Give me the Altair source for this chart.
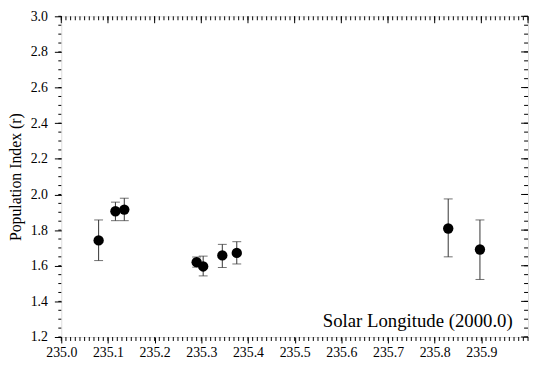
import altair as alt
import pandas as pd

# ---- data ----
longitude = [235.080, 235.116, 235.135, 235.290, 235.304, 235.345, 235.376, 235.829, 235.897]
pop_index = [1.742, 1.906, 1.915, 1.620, 1.596, 1.658, 1.672, 1.809, 1.691]
err_low   = [1.629, 1.853, 1.853, 1.592, 1.543, 1.590, 1.610, 1.650, 1.523]
err_high  = [1.857, 1.957, 1.979, 1.649, 1.654, 1.720, 1.735, 1.975, 1.857]

x_major = [235.0, 235.1, 235.2, 235.3, 235.4, 235.5, 235.6, 235.7, 235.8, 235.9]
y_major = [1.2, 1.4, 1.6, 1.8, 2.0, 2.2, 2.4, 2.6, 2.8, 3.0]
x_ticks_all = [round(235.0 + i * 0.01, 2) for i in range(101)]
y_ticks_all = [round(1.2 + i * 0.05, 2) for i in range(37)]
x_major_all = x_major + [236.0]

W, H = 473, 325
FONT = "Liberation Serif"

df = pd.DataFrame({"x": longitude, "y": pop_index, "lo": err_low, "hi": err_high})
xs = alt.Scale(domain=[235.0, 236.0], nice=False, zero=False)
ys = alt.Scale(domain=[1.2, 3.0], nice=False, zero=False)

x_axis = alt.Axis(
    values=x_major, format=".1f", grid=False, domain=False, labelOverlap=False,
    labelFlush=False,
    tickSize=6, tickColor="black", labelPadding=3,
    labelFont=FONT, labelFontSize=14, labelColor="black",
    title="Solar Longitude (2000.0)", titleFont=FONT, titleFontSize=19,
    titleFontWeight="normal", titleColor="black",
    titleX=457, titleY=-11, titleAlign="right", titleBaseline="alphabetic")
y_axis = alt.Axis(
    values=y_major, format=".1f", grid=False, domain=False, labelOverlap=False,
    labelFlush=False,
    tickSize=7, tickColor="black", labelPadding=7,
    labelFont=FONT, labelFontSize=14, labelColor="black",
    title="Population Index (r)", titleFont=FONT, titleFontSize=16,
    titleFontWeight="normal", titleColor="black",
    titleX=-41, titleY=H / 2, titleAlign="center", titleBaseline="alphabetic")


def X(field):
    return alt.X(field, scale=xs, axis=x_axis)


def Y(field):
    return alt.Y(field, scale=ys, axis=y_axis)


base = alt.Chart(df)

bars = base.mark_rule(color="#333333", strokeWidth=1).encode(
    x=X("x:Q"), y=Y("lo:Q"), y2="hi:Q")
cap_lo = base.mark_tick(color="#333333", orient="horizontal", size=9, thickness=1).encode(
    x=X("x:Q"), y=Y("lo:Q"))
cap_hi = base.mark_tick(color="#333333", orient="horizontal", size=9, thickness=1).encode(
    x=X("x:Q"), y=Y("hi:Q"))
points = base.mark_circle(size=110, color="black", opacity=1).encode(
    x=X("x:Q"), y=Y("y:Q"))

xt = pd.DataFrame({"x": x_ticks_all})
yt = pd.DataFrame({"y": y_ticks_all})
xM = pd.DataFrame({"x": x_major_all})
yM = pd.DataFrame({"y": y_major})

# minor ticks outward on bottom and left
bottom_minor = alt.Chart(xt).mark_rule(color="black").encode(
    x=X("x:Q"), y=alt.value(H), y2=alt.value(H + 4))
left_minor = alt.Chart(yt).mark_rule(color="black").encode(
    y=Y("y:Q"), x=alt.value(0), x2=alt.value(-3))
# inward ticks on top and right
top_minor = alt.Chart(xt).mark_rule(color="black").encode(
    x=X("x:Q"), y=alt.value(0), y2=alt.value(4))
top_major = alt.Chart(xM).mark_rule(color="black").encode(
    x=X("x:Q"), y=alt.value(0), y2=alt.value(7))
right_minor = alt.Chart(yt).mark_rule(color="black").encode(
    y=Y("y:Q"), x=alt.value(W), x2=alt.value(W - 4))
right_major = alt.Chart(yM).mark_rule(color="black").encode(
    y=Y("y:Q"), x=alt.value(W), x2=alt.value(W - 7))

chart = alt.layer(
    bars, bottom_minor, left_minor, top_minor, top_major, right_minor, right_major,
    cap_lo, cap_hi, points
).properties(
    width=W, height=H,
    autosize=alt.AutoSizeParams(type="none"),
    padding={"left": 54, "top": 6, "right": 2, "bottom": 30},
).configure_view(
    stroke="black", strokeWidth=1
).configure(background="white")

chart.save("out.html", embed_options={"renderer": "svg", "actions": False})
